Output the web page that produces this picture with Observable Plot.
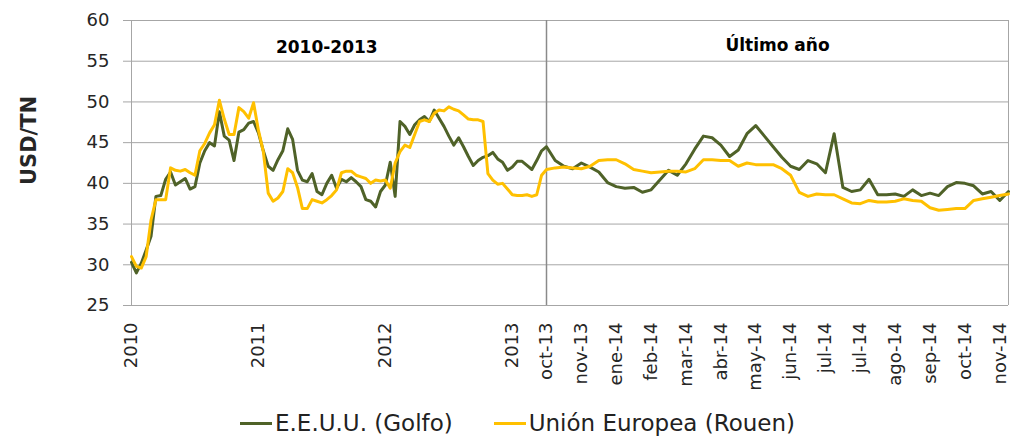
<!DOCTYPE html>
<html>
<head>
<meta charset="utf-8">
<script src="https://cdn.jsdelivr.net/npm/d3@7"></script>
<script src="https://cdn.jsdelivr.net/npm/@observablehq/plot@0.6"></script>
<style>
  body { margin: 0; background: #fff; font-family: "DejaVu Sans", sans-serif; }
  #chart { position: relative; width: 1012px; height: 439px; }
  .legend { position: absolute; left: 240px; top: 408px; display: flex; align-items: center;
            font-size: 23px; color: #222; line-height: 30px; }
  .item { display: flex; align-items: center; margin-right: 41px; }
  .swatch { width: 32px; height: 3px; margin-right: 3px; }
</style>
</head>
<body>
<div id="chart"></div>
<script>
// Weekly prices, USD per tonne.
// 2010-2013 block: one value every second week, counted from the first week of 2010.
const histWeeks = d3.range(0, 170, 2);
const golfoHist = [
  30.3, 29.0, 30.2, 31.8, 33.5, 38.4, 38.5, 40.5, 41.4, 39.8,
  40.2, 40.6, 39.3, 39.6, 42.5, 44.0, 45.0, 44.6, 48.8, 45.8,
  45.3, 42.8, 46.3, 46.6, 47.4, 47.6, 46.2, 44.0, 42.1, 41.6,
  42.9, 44.0, 46.7, 45.4, 41.6, 40.4, 40.2, 41.2, 39.0, 38.6,
  40.0, 41.0, 39.4, 40.5, 40.2, 40.7, 40.2, 39.6, 38.0, 37.8,
  37.1, 39.0, 39.8, 42.6, 38.4, 47.6, 47.0, 46.0, 47.2, 47.8,
  48.2, 47.6, 49.0, 48.0, 47.0, 45.8, 44.7, 45.6, 44.5, 43.3,
  42.2, 42.8, 43.2, 43.4, 43.8, 43.0, 42.6, 41.6, 42.0, 42.7,
  42.7, 42.2, 41.7, 42.8, 44.0
];
const rouenHist = [
  31.0, 29.8, 29.6, 31.0, 35.5, 38.0, 38.0, 38.0, 41.9, 41.6,
  41.5, 41.7, 41.3, 41.0, 44.0, 44.9, 46.2, 47.2, 50.2, 47.9,
  46.0, 46.0, 49.3, 48.8, 48.0, 49.9, 46.5, 43.9, 38.8, 37.8,
  38.2, 39.0, 41.8, 41.3, 39.5, 36.9, 36.9, 38.0, 37.8, 37.6,
  38.0, 38.5, 39.2, 41.3, 41.5, 41.5, 41.0, 40.8, 40.6, 40.0,
  40.4, 40.3, 40.4, 39.4, 42.5, 43.9, 44.7, 44.4, 46.0, 47.6,
  47.8, 47.6, 48.6, 49.0, 48.9, 49.4, 49.1, 48.9, 48.4, 47.9,
  47.8, 47.8, 47.6, 41.2, 40.4, 39.9, 40.0, 39.3, 38.6, 38.5,
  38.5, 38.6, 38.4, 38.6, 41.0
];

// Last year: every week from October 2013 to November 2014.
const golfoLastYear = [
  44.5, 42.8, 42.1, 41.8, 42.5, 42.0, 41.4, 40.1, 39.6, 39.4,
  39.5, 38.9, 39.2, 40.4, 41.6, 41.0, 42.4, 44.2, 45.8, 45.6,
  44.7, 43.3, 44.1, 46.1, 47.1, 45.8, 44.5, 43.2, 42.1, 41.7,
  42.8, 42.4, 41.3, 46.1, 39.5, 39.0, 39.2, 40.5, 38.6, 38.6,
  38.7, 38.4, 39.2, 38.5, 38.8, 38.5, 39.6, 40.1, 40.0, 39.7,
  38.7, 39.0, 37.9, 39.0
];
const rouenLastYear = [
  41.7, 41.9, 42.0, 41.9, 41.8, 42.1, 42.8, 42.9, 42.9, 42.4,
  41.7, 41.5, 41.3, 41.4, 41.5, 41.5, 41.4, 41.8, 42.9, 42.9,
  42.8, 42.8, 42.1, 42.5, 42.3, 42.3, 42.3, 41.8, 41.0, 38.9,
  38.4, 38.7, 38.6, 38.6, 38.1, 37.6, 37.5, 37.9, 37.7, 37.7,
  37.8, 38.1, 37.9, 37.8, 37.0, 36.7, 36.8, 36.9, 36.9, 37.9,
  38.1, 38.3, 38.5, 38.7
];

// Axis labels: one per year in the first block, one every four weeks in the second.
const yearLabels = ["2010", "2011", "2012", "2013"];
const monthLabels = ["oct-13", "nov-13", "ene-14", "feb-14", "mar-14", "abr-14", "may-14",
                     "jun-14", "jul-14", "jul-14", "ago-14", "sep-14", "oct-14", "nov-14"];
const yTicks = d3.range(25, 61, 5);

const seriesNames = ["E.E.U.U. (Golfo)", "Unión Europea (Rouen)"];
const seriesColors = ["#4f6228", "#ffc000"];

// Shared week index: 0-169 for the historical block, 170 onward for the last year.
const split = 170;
const lastWeek = split + golfoLastYear.length - 1;
const rows = [
  ...histWeeks.map((w, i) => ({t: w, golfo: golfoHist[i], rouen: rouenHist[i]})),
  ...golfoLastYear.map((v, j) => ({t: split + j, golfo: v, rouen: rouenLastYear[j]}))
];

const tickLabel = new Map();
yearLabels.forEach((s, i) => tickLabel.set(i * 52, s));
monthLabels.forEach((s, i) => tickLabel.set(split + i * 4, s));

const grid = "#a6a6a6";

const chart = Plot.plot({
  width: 1012,
  height: 400,
  marginLeft: 131,
  marginRight: 4,
  marginTop: 20,
  marginBottom: 95,
  style: {fontFamily: "DejaVu Sans, sans-serif", fontSize: "18px", color: "#262626", background: "#fff"},
  // two-piece scale: the historical block is compressed, the last year is stretched
  x: {type: "linear", domain: [0, split, lastWeek], range: [131, 546, 1008]},
  y: {domain: [25, 60]},
  marks: [
    Plot.gridY(yTicks, {stroke: grid, strokeOpacity: 1}),
    Plot.axisY(yTicks, {tickSize: 8, tickPadding: 14, stroke: grid, strokeOpacity: 1, fill: "#262626", label: null, fontSize: 18}),
    Plot.ruleX([0, lastWeek], {stroke: grid}),
    Plot.ruleX([split], {stroke: "#8a8a8a", strokeWidth: 1.5}),
    Plot.axisX([...tickLabel.keys()], {
      tickSize: 0, tickRotate: -90, tickPadding: 17, fontSize: 18,
      tickFormat: d => tickLabel.get(d), label: null, fill: "#262626"
    }),
    Plot.line(rows, {x: "t", y: "golfo", stroke: seriesColors[0], strokeWidth: 3}),
    Plot.line(rows, {x: "t", y: "rouen", stroke: seriesColors[1], strokeWidth: 3}),
    Plot.text(["2010-2013"], {x: 80, y: 56.7, fontWeight: "bold", fontSize: 17, fill: "#000"}),
    Plot.text(["Último año"], {x: split + 26.5, y: 56.9, fontWeight: "bold", fontSize: 17, fill: "#000"}),
    Plot.text(["USD/TN"], {frameAnchor: "left", dx: -102, dy: 22, rotate: -90, fontWeight: "bold", fontSize: 21, fill: "#262626"})
  ]
});

const root = document.getElementById("chart");
root.appendChild(chart);

const legend = document.createElement("div");
legend.className = "legend";
seriesNames.forEach((name, i) => {
  const item = document.createElement("div");
  item.className = "item";
  const sw = document.createElement("span");
  sw.className = "swatch";
  sw.style.background = seriesColors[i];
  const label = document.createElement("span");
  label.textContent = name;
  item.append(sw, label);
  legend.appendChild(item);
});
root.appendChild(legend);
</script>
</body>
</html>
